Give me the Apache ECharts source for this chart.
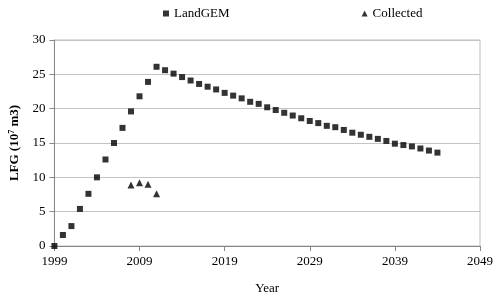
<!DOCTYPE html>
<html>
<head>
<meta charset="utf-8">
<script src="https://cdn.jsdelivr.net/npm/echarts@6/dist/echarts.min.js"></script>
<style>
  html, body { margin: 0; padding: 0; background: #fff; }
  #chart { width: 500px; height: 300px; }
</style>
</head>
<body>
<div id="chart"></div>
<script>
// years on the x axis (category axis, label every 10 years)
var years = [];
for (var y = 1999; y <= 2049; y++) years.push(String(y));

// LandGEM estimate, 1999..2044 (10^7 m3)
var landgem = [
  0, 1.6, 2.9, 5.4, 7.6, 10.0, 12.6, 15.0, 17.2, 19.6,
  21.8, 23.9, 26.1, 25.6, 25.1, 24.6, 24.1, 23.6, 23.2, 22.8,
  22.3, 21.9, 21.5, 21.0, 20.7, 20.2, 19.8, 19.4, 19.0, 18.6,
  18.2, 17.9, 17.5, 17.3, 16.9, 16.5, 16.2, 15.9, 15.6, 15.3,
  14.9, 14.7, 14.5, 14.2, 13.9, 13.6
];

// collected gas
var collectedYears = ["2008", "2009", "2010", "2011"];
var collected = [8.9, 9.2, 9.0, 7.6];

var serif = "Liberation Serif";

var myChart = echarts.init(document.getElementById("chart"));
myChart.setOption({
  animation: false,
  textStyle: { fontFamily: serif },
  legend: {
    top: 2,
    left: 158,
    itemGap: 132,
    itemWidth: 6,
    itemHeight: 6,
    textStyle: { fontFamily: serif, fontSize: 13, color: "#000" },
    data: [
      { name: "LandGEM", icon: "rect", itemStyle: { color: "#000" } },
      { name: "Collected", icon: "triangle", itemStyle: { color: "#000" } }
    ]
  },
  grid: {
    left: 53,
    right: 20,
    top: 40,
    bottom: 54,
    show: true,
    borderColor: "#bdbdbd",
    borderWidth: 1
  },
  xAxis: {
    type: "category",
    data: years,
    boundaryGap: false,
    name: "Year",
    nameLocation: "middle",
    nameGap: 36,
    nameTextStyle: { fontFamily: serif, fontSize: 13, color: "#000" },
    axisLine: { lineStyle: { color: "#868686" } },
    axisTick: { show: true, interval: 9, length: 5, lineStyle: { color: "#868686" } },
    axisLabel: { interval: 9, color: "#000", fontSize: 13, fontFamily: serif, margin: 9 },
    splitLine: { show: false }
  },
  yAxis: {
    type: "value",
    min: 0,
    max: 30,
    interval: 5,
    name: "{a|LFG (10}{s|7}{a| m3)}",
    nameLocation: "middle",
    nameGap: 26,
    nameRotate: 90,
    nameTextStyle: {
      rich: {
        a: { fontFamily: serif, fontSize: 13, fontWeight: "bold", color: "#000" },
        s: { fontFamily: serif, fontSize: 8, fontWeight: "bold", color: "#000", verticalAlign: "top", padding: [0, 0, 6, 0] }
      }
    },
    axisLine: { show: true, lineStyle: { color: "#868686" } },
    axisTick: { show: true, length: 5, lineStyle: { color: "#868686" } },
    axisLabel: { color: "#000", fontSize: 13, fontFamily: serif, margin: 9 },
    splitLine: { lineStyle: { color: "#c4c4c4" } }
  },
  series: [
    {
      name: "LandGEM",
      type: "scatter",
      symbol: "rect",
      symbolSize: 6,
      itemStyle: { color: "#000" },
      data: landgem
    },
    {
      name: "Collected",
      type: "scatter",
      symbol: "triangle",
      symbolSize: 7,
      itemStyle: { color: "#000" },
      data: collectedYears.map(function (yr, i) { return [yr, collected[i]]; })
    }
  ]
});
</script>
</body>
</html>
